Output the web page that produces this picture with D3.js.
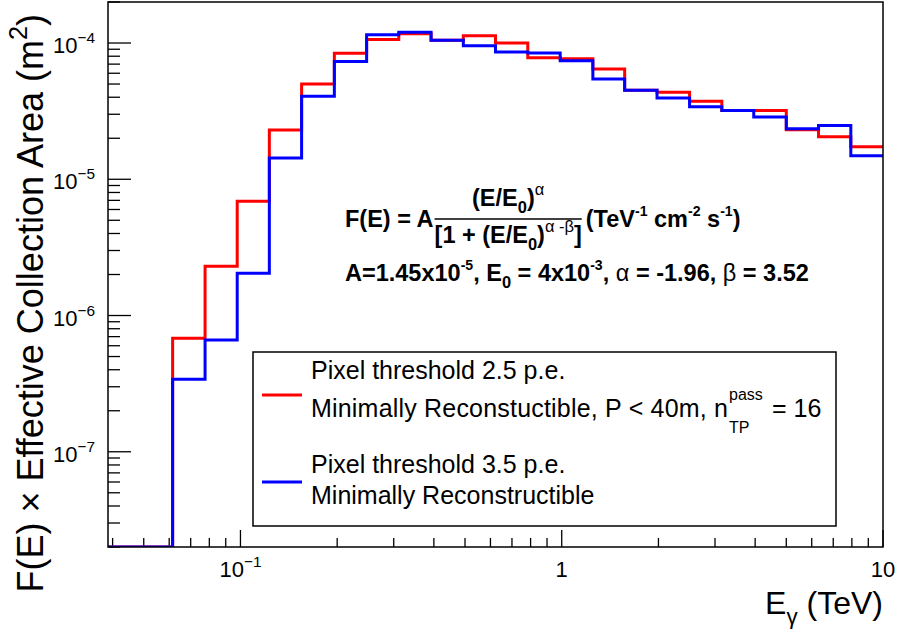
<!DOCTYPE html>
<html>
<head>
<meta charset="utf-8">
<script src="https://cdn.jsdelivr.net/npm/d3@7"></script>
<style>
  body { margin: 0; background: #fff; }
  svg { display: block; font-family: "Liberation Sans", Arial, Helvetica, sans-serif; }
</style>
</head>
<body>
<svg id="chart" width="899" height="633"></svg>
<script>
// histogram bin edges (TeV), 24 log bins
const binEdges = [0.0387, 0.0488, 0.0615, 0.0776, 0.0977, 0.123, 0.155, 0.196, 0.247, 0.311,
  0.392, 0.494, 0.622, 0.784, 0.989, 1.25, 1.57, 1.98, 2.50, 3.15, 3.96, 5.00, 6.30, 7.94, 10];

// Pixel threshold 2.5 p.e. (red)
const redValues = [0, 0, 6.8e-7, 2.3e-6, 6.9e-6, 2.3e-5, 5.0e-5, 8.4e-5, 1.06e-4, 1.17e-4,
  1.05e-4, 1.13e-4, 1.0e-4, 7.8e-5, 7.65e-5, 6.45e-5, 4.5e-5, 4.35e-5, 3.73e-5, 3.19e-5,
  3.19e-5, 2.31e-5, 2.05e-5, 1.73e-5];

// Pixel threshold 3.5 p.e. (blue)
const blueValues = [0, 0, 3.4e-7, 6.6e-7, 2.04e-6, 1.43e-5, 4.06e-5, 7.33e-5, 1.15e-4, 1.2e-4,
  1.05e-4, 9.55e-5, 8.6e-5, 8.45e-5, 7.4e-5, 5.45e-5, 4.5e-5, 3.95e-5, 3.4e-5, 3.19e-5,
  2.87e-5, 2.35e-5, 2.48e-5, 1.49e-5];

const xDomain = [0.0387, 10];
const yDomain = [2e-8, 2e-4];
const xLabels = [{ v: 0.1, base: "10", exp: "\u22121" }, { v: 1, base: "1", exp: "" }, { v: 10, base: "10", exp: "" }];
const yLabels = [{ v: 1e-4, exp: "\u22124" }, { v: 1e-5, exp: "\u22125" }, { v: 1e-6, exp: "\u22126" }, { v: 1e-7, exp: "\u22127" }];

const frame = { left: 108, right: 883, top: 2, bottom: 547 };
const svg = d3.select("#chart");

const x = d3.scaleLog().domain(xDomain).range([frame.left, frame.right]);
const y = d3.scaleLog().domain(yDomain).range([frame.bottom, frame.top]);

svg.append("rect").attr("width", 899).attr("height", 633).attr("fill", "#fff");

svg.append("clipPath").attr("id", "plot-clip")
  .append("rect")
  .attr("x", frame.left).attr("y", frame.top)
  .attr("width", frame.right - frame.left).attr("height", frame.bottom - frame.top);

// ticks (ROOT style, inside the frame on left and bottom)
const isDecade = (v) => Math.abs(Math.log10(v) - Math.round(Math.log10(v))) < 1e-6;
const axes = svg.append("g").attr("stroke", "#000").attr("stroke-width", 1.3);

axes.selectAll("line.xt")
  .data(x.ticks())
  .enter()
  .append("line")
  .attr("x1", (d) => x(d)).attr("x2", (d) => x(d))
  .attr("y1", frame.bottom)
  .attr("y2", (d) => frame.bottom - (isDecade(d) ? 17 : 9));

axes.selectAll("line.yt")
  .data(y.ticks())
  .enter()
  .append("line")
  .attr("y1", (d) => y(d)).attr("y2", (d) => y(d))
  .attr("x1", frame.left)
  .attr("x2", (d) => frame.left + (isDecade(d) ? 23 : 12));

// histograms
const histLine = d3.line()
  .x((d) => x(d[0]))
  .y((d) => y(Math.max(d[1], yDomain[0])))
  .curve(d3.curveStepAfter);

function histPoints(values) {
  return binEdges.map((e, i) => [e, values[Math.min(i, values.length - 1)]]);
}

const plot = svg.append("g").attr("clip-path", "url(#plot-clip)");
[[redValues, "#ff0000"], [blueValues, "#0000ff"]].forEach(([vals, color]) => {
  plot.append("path")
    .datum(histPoints(vals))
    .attr("fill", "none")
    .attr("stroke", color)
    .attr("stroke-width", 3)
    .attr("d", histLine);
});

// frame
svg.append("rect")
  .attr("x", frame.left).attr("y", frame.top)
  .attr("width", frame.right - frame.left).attr("height", frame.bottom - frame.top)
  .attr("fill", "none").attr("stroke", "#000").attr("stroke-width", 1.5);

// rich text helper: parts with optional sup/sub and weight
function rich(parent, px, py, parts, size, opts = {}) {
  const t = parent.append("text")
    .attr("x", px).attr("y", py)
    .attr("font-size", size)
    .attr("font-weight", opts.weight || "normal")
    .attr("text-anchor", opts.anchor || "start")
    .attr("fill", "#000");
  let cur = 0;
  parts.forEach((p) => {
    const shift = p.sup ? -0.45 * size : p.sub ? 0.3 * size : 0;
    const ts = t.append("tspan").attr("dy", shift - cur).text(p.t);
    if (p.sup || p.sub) ts.attr("font-size", size * (p.scale || 0.7));
    if (p.w) ts.attr("font-weight", p.w);
    cur = shift;
  });
  return t;
}

// tick labels
yLabels.forEach((d) => {
  rich(svg, 95, y(d.v) + 10, [{ t: "10" }, { t: d.exp, sup: true }], 22, { anchor: "end" });
});
xLabels.forEach((d) => {
  const parts = [{ t: d.base }];
  if (d.exp) parts.push({ t: d.exp, sup: true });
  rich(svg, x(d.v), 577, parts, 22, { anchor: "middle" });
});

// axis titles
rich(svg, 883, 614, [{ t: "E" }, { t: "\u03b3", sub: true }, { t: " (TeV)" }], 32, { anchor: "end" });
rich(svg, 0, 0, [{ t: "F(E) \u00d7 Effective Collection Area (m" }, { t: "2", sup: true }, { t: ")" }], 36, { anchor: "end" })
  .attr("transform", "translate(43,14) rotate(-90)");

// formula
const fs = 23.5;
const fx = 345;
const lhs = rich(svg, fx, 227, [{ t: "F(E) = A" }], fs, { weight: "bold" });
const lhsW = lhs.node().getComputedTextLength();
const den = rich(svg, 0, 243, [
  { t: "[1 + (E/E" }, { t: "0", sub: true }, { t: ")" },
  { t: "\u03b1 -\u03b2", sup: true, w: "normal" }, { t: "]" }
], fs, { weight: "bold" });
const denW = den.node().getBBox().width;
const barX = fx + lhsW + 1;
den.attr("x", barX);
svg.append("line")
  .attr("x1", barX).attr("x2", barX + denW)
  .attr("y1", 219).attr("y2", 219)
  .attr("stroke", "#000").attr("stroke-width", 1.5);
rich(svg, barX + denW / 2, 206, [
  { t: "(E/E" }, { t: "0", sub: true }, { t: ")" }, { t: "\u03b1", sup: true, w: "normal" }
], fs, { weight: "bold", anchor: "middle" });
rich(svg, barX + denW + 4, 227, [
  { t: "(TeV" }, { t: "-1", sup: true, scale: 0.6 }, { t: " cm" }, { t: "-2", sup: true, scale: 0.6 },
  { t: " s" }, { t: "-1", sup: true, scale: 0.6 }, { t: ")" }
], fs, { weight: "bold" });

rich(svg, fx, 281, [
  { t: "A=1.45x10" }, { t: "-5", sup: true, scale: 0.6 }, { t: ", E" }, { t: "0", sub: true },
  { t: " = 4x10" }, { t: "-3", sup: true, scale: 0.6 }, { t: ",  " }, { t: "\u03b1", w: "normal" },
  { t: " = -1.96,  " }, { t: "\u03b2", w: "normal" }, { t: " = 3.52" }
], fs, { weight: "bold" });

// legend
const legend = svg.append("g");
legend.append("rect")
  .attr("x", 253).attr("y", 352).attr("width", 583).attr("height", 174)
  .attr("fill", "#fff").attr("stroke", "#000").attr("stroke-width", 1.5);
legend.append("line").attr("x1", 262).attr("x2", 302).attr("y1", 395).attr("y2", 395)
  .attr("stroke", "#ff0000").attr("stroke-width", 3);
legend.append("line").attr("x1", 262).attr("x2", 302).attr("y1", 482).attr("y2", 482)
  .attr("stroke", "#0000ff").attr("stroke-width", 3);

const tx = 311;
const ls = 25;
rich(legend, tx, 379, [{ t: "Pixel threshold 2.5 p.e." }], ls);
rich(legend, tx, 417, [{ t: "Minimally Reconstuctible, P < 40m, n" }], ls)
  .attr("textLength", 417).attr("lengthAdjust", "spacing");
rich(legend, tx + 418, 400, [{ t: "pass" }], 16);
rich(legend, tx + 418, 433, [{ t: "TP" }], 16);
rich(legend, tx + 461, 417, [{ t: "= 16" }], ls);
rich(legend, tx, 473, [{ t: "Pixel threshold 3.5 p.e." }], ls);
rich(legend, tx, 504, [{ t: "Minimally Reconstructible" }], ls);
</script>
</body>
</html>
